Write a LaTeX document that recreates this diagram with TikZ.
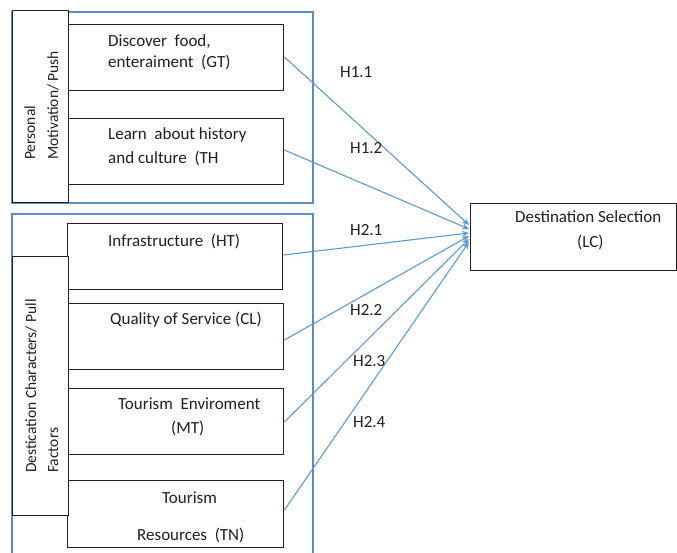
\documentclass[tikz,border=0pt]{standalone}
\usepackage{fontspec}
\setmainfont{Carlito}
\usetikzlibrary{arrows.meta}
\definecolor{frameblue}{HTML}{5B8BC4}
\definecolor{linkblue}{HTML}{5B9BD5}
\definecolor{ink}{HTML}{202020}
\tikzset{
  groupframe/.style={draw=frameblue, line width=1.1pt},
  itembox/.style={draw=ink, line width=1.4pt, fill=white, anchor=north west, inner sep=0pt},
  txt/.style={text=ink, font=\fontsize{17}{19}\selectfont, anchor=base west, inner sep=0pt},
  vtxt/.style={txt, font=\fontsize{15.5}{18}\selectfont, rotate=90},
  hyp/.style={txt},
  link/.style={draw=linkblue, line width=1.1pt, -{Stealth[length=7pt,width=6pt]}}
}
\begin{document}
\begin{tikzpicture}[x=1pt, y=-1pt]
\useasboundingbox (0,0) rectangle (677,553);

% push-factor group
\draw[groupframe] (12,12) rectangle (313,203);
\node[itembox, minimum width=56pt, minimum height=192pt] (pushlbl) at (12,10) {};
\node[vtxt] (pushA) at (35,160) {Personal};
\node[vtxt] (pushB) at (58,160) {Motivation/ Push};

\node[itembox, minimum width=215pt, minimum height=66pt] (gt) at (68,24) {};
\node[txt] (gtA) at (108,47) {Discover\ \ food,};
\node[txt] (gtB) at (108,68) {enteraiment\ \ (GT)};

\node[itembox, minimum width=215pt, minimum height=66pt] (th) at (68,118) {};
\node[txt] (thA) at (108,140) {Learn\ \ about history};
\node[txt] (thB) at (108,164) {and culture\ \ (TH};

% pull-factor group
\draw[groupframe] (12,560) -- (12,214) -- (313,214) -- (313,560);
\node[itembox, minimum width=215pt, minimum height=66pt] (ht) at (67,223) {};
\node[txt] (htA) at (108,247) {Infrastructure\ \ (HT)};

\node[itembox, minimum width=215pt, minimum height=66pt] (cl) at (68,303) {};
\node[txt] (clA) at (110,324) {Quality\ of\ Service (CL)};

\node[itembox, minimum width=215pt, minimum height=66pt] (mt) at (68,388) {};
\node[txt] (mtA) at (118,409) {Tourism\ \ Enviroment};
\node[txt] (mtB) at (171,433) {(MT)};

\node[itembox, minimum width=216pt, minimum height=67pt] (tn) at (67,480) {};
\node[txt] (tnA) at (162,503) {Tourism};
\node[txt] (tnB) at (137,540) {Resources\ \ (TN)};

\node[itembox, minimum width=56pt, minimum height=259pt] (pulllbl) at (12,256) {};
\node[vtxt] (pullA) at (36,473) {Destication Characters/\ Pull};
\node[vtxt] (pullB) at (58,473) {Factors};

% outcome
\node[itembox, minimum width=206pt, minimum height=67pt] (lc) at (470,203) {};
\node[txt] (lcA) at (515,223) {Destination Selection};
\node[txt] (lcB) at (577,248) {(LC)};

% arrow end points on the outcome box
\coordinate (e1) at (469,225);
\coordinate (e2) at (469,229);
\coordinate (e3) at (469,233);
\coordinate (e4) at (469,236);
\coordinate (e5) at (469,239);
\coordinate (e6) at (469,242);

\draw[link] (gt.east |- 0,57) -- (e1);
\draw[link] (th.east |- 0,150) -- (e2);
\draw[link] (ht.east |- 0,255) -- (e3);
\draw[link] (cl.east |- 0,340) -- (e4);
\draw[link] (mt.east |- 0,422) -- (e5);
\draw[link] (tn.east |- 0,510) -- (e6);

% hypothesis labels
\node[hyp] (h11) at (340,78) {H1.1};
\node[hyp] (h12) at (350,154) {H1.2};
\node[hyp] (h21) at (350,236) {H2.1};
\node[hyp] (h22) at (350,316) {H2.2};
\node[hyp] (h23) at (353,366) {H2.3};
\node[hyp] (h24) at (353,427) {H2.4};
\end{tikzpicture}
\end{document}
